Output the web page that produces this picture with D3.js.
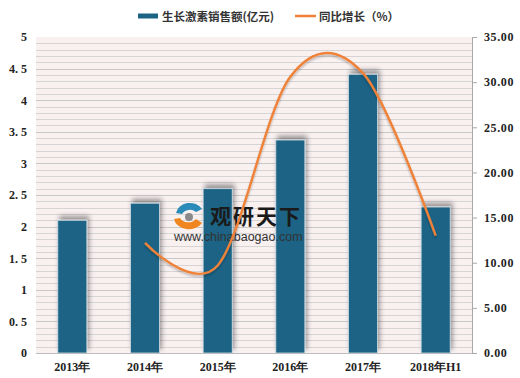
<!DOCTYPE html>
<html>
<head>
<meta charset="utf-8">
<script src="https://cdn.jsdelivr.net/npm/d3@7"></script>
<style>
  body { margin: 0; background: #fff; }
  svg { display: block; }
  .tick text { font-family: "Liberation Serif", "DejaVu Serif", serif; font-weight: bold; fill: #222; }
</style>
</head>
<body>
<div id="chart"></div>
<script>
const W = 520, H = 378;
const M = {top: 37, right: 48, bottom: 25, left: 36};

const years = ['2013年', '2014年', '2015年', '2016年', '2017年', '2018年H1'];
const sales = [2.1, 2.37, 2.6, 3.37, 4.41, 2.31];
const growth = [null, 12.2, 9.7, 30.6, 31.0, 13.0];
const leftTicks = [0, 0.5, 1, 1.5, 2, 2.5, 3, 3.5, 4, 4.5, 5];
const rightTicks = [0, 5, 10, 15, 20, 25, 30, 35];

const BAR_COLOR = '#1c6385';
const LINE_COLOR = '#ef8237';

const cw = W - M.left - M.right;
const ch = H - M.top - M.bottom;

const svg = d3.select('#chart').append('svg')
    .attr('width', W).attr('height', H);

const defs = svg.append('defs');
const shadow = defs.append('filter').attr('id', 'barShadow')
    .attr('x', '-30%').attr('y', '-30%').attr('width', '160%').attr('height', '160%');
shadow.append('feGaussianBlur').attr('in', 'SourceAlpha').attr('stdDeviation', 2.4);
shadow.append('feOffset').attr('dx', 1.5).attr('dy', -4).attr('result', 'off');
shadow.append('feComponentTransfer').append('feFuncA').attr('type', 'linear').attr('slope', 0.38);
const merge = shadow.append('feMerge');
merge.append('feMergeNode');
merge.append('feMergeNode').attr('in', 'SourceGraphic');

const lineShadow = defs.append('filter').attr('id', 'lineShadow')
    .attr('x', '-10%').attr('y', '-10%').attr('width', '120%').attr('height', '120%');
lineShadow.append('feGaussianBlur').attr('in', 'SourceAlpha').attr('stdDeviation', 1);
lineShadow.append('feOffset').attr('dx', 0).attr('dy', 2);
lineShadow.append('feComponentTransfer').append('feFuncA').attr('type', 'linear').attr('slope', 0.25);
const lm = lineShadow.append('feMerge');
lm.append('feMergeNode');
lm.append('feMergeNode').attr('in', 'SourceGraphic');

const x = d3.scaleBand().domain(years).range([0, cw]).paddingInner(0.6).paddingOuter(0.3);
const y = d3.scaleLinear().domain([0, 5]).range([ch, 0]);
const y2 = d3.scaleLinear().domain([0, 35]).range([ch, 0]);

const g = svg.append('g').attr('transform', `translate(${M.left},${M.top})`);

// plot background with dense stripes
g.append('rect').attr('width', cw).attr('height', ch).attr('fill', '#f9f0f0');
g.selectAll('.grid')
    .data(d3.range(0, 50))
    .enter().append('line')
    .attr('x1', 0).attr('x2', cw)
    .attr('y1', d => Math.round(y(d / 10)) + 0.5)
    .attr('y2', d => Math.round(y(d / 10)) + 0.5)
    .attr('stroke', d => d % 5 === 0 ? '#c8c8c8' : '#d6d4d4')
    .attr('stroke-width', 1.2);

// bars
g.selectAll('.bar')
    .data(sales)
    .enter().append('rect')
    .attr('x', (d, i) => x(years[i]))
    .attr('y', d => y(d))
    .attr('width', x.bandwidth())
    .attr('height', d => ch - y(d))
    .attr('fill', BAR_COLOR)
    .attr('stroke', '#cfdde4')
    .attr('stroke-width', 0.8)
    .attr('filter', 'url(#barShadow)');

// bottom axis
g.append('g')
    .attr('transform', `translate(0,${ch})`)
    .call(d3.axisBottom(x).tickSize(0).tickPadding(9))
    .call(a => a.select('.domain').attr('stroke', '#bdbdbd'))
    .call(a => a.selectAll('text').attr('font-size', 12));

// left axis
g.append('g')
    .call(d3.axisLeft(y).tickValues(leftTicks).tickSize(0).tickPadding(9)
        .tickFormat(d => d3.format('')(d).replace('.', '. ')))
    .call(a => a.select('.domain').remove())
    .call(a => a.selectAll('text').attr('font-size', 12));

// right axis
g.append('g')
    .attr('transform', `translate(${cw},0)`)
    .call(d3.axisRight(y2).tickValues(rightTicks).tickSize(5).tickSizeOuter(0).tickPadding(7)
        .tickFormat(d => d3.format('.2f')(d)))
    .call(a => a.select('.domain').attr('stroke', '#a8a8a8'))
    .call(a => a.selectAll('line').attr('stroke', '#a8a8a8'))
    .call(a => a.selectAll('text').attr('font-size', 12).attr('letter-spacing', 0.6));

// growth line
const pts = growth.map((d, i) => ({year: years[i], v: d})).filter(d => d.v !== null);
const line = d3.line()
    .x(d => x(d.year) + x.bandwidth() / 2)
    .y(d => y2(d.v))
    .curve(d3.curveCatmullRom.alpha(0));

// watermark (behind line)
const wm = g.append('g').attr('transform', 'translate(136,162)');
wm.append('path').attr('d', 'M4,14 A14,12 0 0 1 30,10 L24,13 A9,8 0 0 0 10,15 Z').attr('fill', '#2a8ab8');
wm.append('path').attr('d', 'M2,20 A15,12 0 0 0 30,24 L24,20 A9,7 0 0 1 8,19 Z').attr('fill', '#f0861f');
wm.append('circle').attr('cx', 17).attr('cy', 18).attr('r', 4).attr('fill', '#8a8a8a');
wm.append('text').attr('x', 38).attr('y', 25)
    .attr('font-family', '"Noto Sans CJK SC", sans-serif').attr('font-weight', 'bold')
    .attr('font-size', 21).attr('fill', '#1a1a1a').attr('letter-spacing', 2).text('观研天下');
wm.append('text').attr('x', 2).attr('y', 42)
    .attr('font-family', '"Liberation Sans", Arial, sans-serif')
    .attr('font-size', 12.5).attr('fill', '#333').text('www.chinabaogao.com');

g.append('path')
    .datum(pts)
    .attr('d', line)
    .attr('fill', 'none')
    .attr('stroke', LINE_COLOR)
    .attr('stroke-width', 2.4)
    .attr('filter', 'url(#lineShadow)');

// legend
const lg = svg.append('g').attr('transform', 'translate(138,16)');
lg.append('rect').attr('x', 0).attr('y', -2.5).attr('width', 20).attr('height', 5).attr('fill', BAR_COLOR);
lg.append('text').attr('x', 24).attr('y', 4.5)
    .attr('font-family', '"Noto Sans CJK SC", sans-serif').attr('font-weight', 'bold')
    .attr('font-size', 11.5).attr('fill', '#333').text('生长激素销售额(亿元)');
lg.append('line').attr('x1', 157).attr('x2', 178).attr('y1', 0).attr('y2', 0)
    .attr('stroke', LINE_COLOR).attr('stroke-width', 2.5);
lg.append('text').attr('x', 181).attr('y', 4.5)
    .attr('font-family', '"Noto Sans CJK SC", sans-serif').attr('font-weight', 'bold')
    .attr('font-size', 11.5).attr('fill', '#333').text('同比增长（%）');
</script>
</body>
</html>
